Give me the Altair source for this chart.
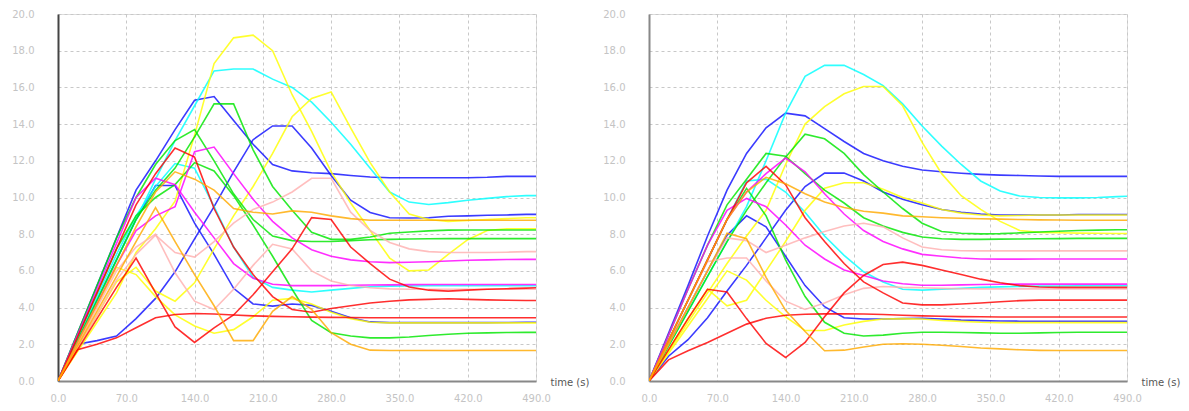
import altair as alt
import pandas as pd

time_s = [0, 20, 40, 60, 80, 100, 120, 140, 160, 180, 200, 220, 240, 260, 280,
          300, 320, 340, 360, 380, 400, 420, 440, 460, 480, 490]

series_names = ["blue_a", "blue_b", "blue_c", "cyan_a", "cyan_b", "yellow_a", "yellow_b",
                "yellow_c", "green_a", "green_b", "green_c", "magenta_a", "magenta_b",
                "pink_a", "pink_b", "red_a", "red_b", "red_c", "orange_a", "orange_c"]
series_colors = ["#1010ff", "#1010ff", "#1010ff", "#00ffff", "#00ffff", "#ffff00", "#ffff00",
                 "#ffff00", "#00e600", "#00e600", "#00e600", "#ff00ff", "#ff00ff",
                 "#ffb0b0", "#ffb0b0", "#ff0000", "#ff0000", "#ff0000", "#ffaa00", "#ffaa00"]

x_ticks = [0, 70, 140, 210, 280, 350, 420, 490]
y_ticks = [0, 2, 4, 6, 8, 10, 12, 14, 16, 18, 20]

# ---- left panel ----
L_blue_a = [0, 2.6, 5.2, 7.8, 10.4, 12.0, 13.7, 15.3, 15.5, 14.2, 12.9, 11.8, 11.45, 11.35, 11.3, 11.2, 11.12, 11.08, 11.08, 11.08, 11.08, 11.08, 11.1, 11.15, 11.15, 11.15]
L_blue_b = [0, 2.0, 2.2, 2.45, 3.4, 4.5, 5.95, 7.75, 9.5, 11.4, 13.15, 13.9, 13.9, 12.7, 11.2, 9.85, 9.18, 8.9, 8.88, 8.9, 8.98, 9.0, 9.03, 9.05, 9.08, 9.08]
L_blue_c = [0, 2.2, 4.4, 6.6, 8.8, 10.65, 10.65, 8.6, 6.9, 5.05, 4.2, 4.08, 4.2, 4.12, 3.8, 3.45, 3.22, 3.18, 3.18, 3.18, 3.18, 3.18, 3.18, 3.19, 3.2, 3.2]
L_cyan_a = [0, 2.2, 4.4, 6.6, 8.8, 11.0, 13.1, 15.0, 16.9, 17.0, 17.0, 16.45, 16.0, 15.2, 14.1, 12.9, 11.6, 10.3, 9.75, 9.62, 9.72, 9.85, 9.95, 10.05, 10.1, 10.1]
L_cyan_b = [0, 2.3, 4.6, 6.9, 9.0, 10.6, 11.85, 11.6, 9.5, 7.3, 5.65, 5.1, 4.95, 4.85, 4.95, 5.05, 5.14, 5.17, 5.18, 5.19, 5.19, 5.19, 5.19, 5.19, 5.19, 5.19]
L_yellow_a = [0, 1.6, 3.2, 4.8, 7.0, 8.3, 9.8, 13.4, 17.3, 18.7, 18.85, 18.0, 15.6, 13.6, 11.4, 9.7, 8.2, 6.7, 6.0, 6.05, 6.9, 7.7, 8.2, 8.3, 8.3, 8.3]
L_yellow_b = [0, 2.0, 4.1, 6.2, 5.8, 4.6, 3.6, 3.0, 2.6, 2.8, 3.5, 4.4, 4.5, 4.2, 3.75, 3.4, 3.2, 3.17, 3.17, 3.17, 3.17, 3.17, 3.17, 3.17, 3.17, 3.17]
L_yellow_c = [0, 1.8, 3.6, 5.4, 6.2, 4.9, 4.35, 5.35, 7.2, 9.0, 10.6, 12.4, 14.4, 15.4, 15.75, 13.8, 11.9, 10.3, 9.1, 8.8, 8.7, 8.75, 8.8, 8.85, 8.9, 8.9]
L_green_a = [0, 2.6, 5.2, 7.8, 10.0, 11.8, 13.1, 13.7, 12.0, 10.2, 8.8, 7.9, 7.65, 7.6, 7.6, 7.65, 7.7, 7.72, 7.74, 7.75, 7.76, 7.76, 7.76, 7.76, 7.76, 7.76]
L_green_b = [0, 2.2, 4.4, 6.6, 8.8, 10.4, 11.6, 13.3, 15.1, 15.1, 12.6, 10.6, 9.3, 8.1, 7.72, 7.72, 7.85, 8.05, 8.12, 8.18, 8.22, 8.23, 8.23, 8.23, 8.23, 8.23]
L_green_c = [0, 2.4, 4.8, 7.2, 9.0, 10.0, 10.7, 11.9, 11.45, 10.1, 8.5, 6.8, 5.0, 3.3, 2.63, 2.45, 2.35, 2.35, 2.4, 2.48, 2.55, 2.6, 2.62, 2.64, 2.65, 2.65]
L_magenta_a = [0, 2.5, 5.0, 7.5, 10.0, 11.05, 10.7, 9.2, 7.8, 6.4, 5.6, 5.27, 5.2, 5.2, 5.2, 5.22, 5.23, 5.24, 5.25, 5.26, 5.26, 5.26, 5.26, 5.26, 5.26, 5.26]
L_magenta_b = [0, 2.1, 4.2, 6.3, 8.2, 9.0, 9.5, 12.5, 12.75, 11.3, 9.9, 8.7, 7.8, 7.15, 6.8, 6.6, 6.5, 6.45, 6.47, 6.5, 6.54, 6.58, 6.6, 6.62, 6.63, 6.63]
L_pink_a = [0, 1.8, 3.6, 5.5, 6.9, 7.95, 7.0, 6.75, 7.6, 8.6, 9.35, 9.75, 10.3, 11.05, 11.05, 9.2, 8.2, 7.55, 7.2, 7.05, 7.0, 7.0, 7.0, 7.02, 7.05, 7.05]
L_pink_b = [0, 2.0, 4.0, 6.0, 7.3, 8.0, 5.9, 4.35, 3.9, 5.0, 6.3, 7.45, 7.2, 6.0, 5.45, 5.2, 5.08, 5.02, 5.0, 5.0, 5.0, 5.0, 5.0, 5.0, 5.0, 5.0]
L_red_a = [0, 1.7, 2.0, 2.35, 2.9, 3.45, 3.62, 3.68, 3.65, 3.6, 3.55, 3.52, 3.5, 3.48, 3.47, 3.46, 3.45, 3.45, 3.45, 3.45, 3.45, 3.45, 3.45, 3.45, 3.45, 3.45]
L_red_b = [0, 1.7, 3.4, 5.1, 6.7, 4.8, 2.95, 2.1, 2.9, 3.6, 4.7, 5.95, 7.2, 8.9, 8.8, 7.3, 6.4, 5.55, 5.12, 4.95, 4.9, 4.95, 5.0, 5.03, 5.06, 5.08]
L_red_c = [0, 2.4, 4.8, 7.2, 9.6, 11.3, 12.7, 12.2, 9.4, 7.3, 5.8, 4.6, 3.9, 3.75, 3.95, 4.1, 4.25, 4.35, 4.42, 4.45, 4.48, 4.45, 4.42, 4.4, 4.39, 4.39]
L_orange_a = [0, 2.1, 4.2, 6.3, 8.4, 10.3, 11.4, 11.0, 10.4, 9.4, 9.2, 9.1, 9.27, 9.2, 9.0, 8.85, 8.76, 8.76, 8.76, 8.76, 8.76, 8.76, 8.76, 8.76, 8.76, 8.76]
L_orange_c = [0, 1.9, 3.8, 5.7, 7.6, 9.45, 7.6, 5.8, 4.1, 2.2, 2.2, 3.8, 4.6, 3.9, 2.63, 2.0, 1.68, 1.66, 1.66, 1.66, 1.66, 1.66, 1.66, 1.66, 1.66, 1.66]

# ---- right panel ----
R_blue_a = [0, 2.6, 5.2, 7.9, 10.4, 12.4, 13.8, 14.6, 14.45, 13.75, 13.05, 12.4, 12.0, 11.7, 11.5, 11.4, 11.32, 11.26, 11.22, 11.2, 11.17, 11.15, 11.15, 11.15, 11.15, 11.15]
R_blue_b = [0, 1.35, 2.25, 3.45, 4.9, 6.3, 7.8, 9.3, 10.6, 11.33, 11.33, 10.9, 10.3, 9.9, 9.6, 9.35, 9.2, 9.1, 9.05, 9.05, 9.05, 9.05, 9.07, 9.07, 9.07, 9.07]
R_blue_c = [0, 2.0, 4.0, 6.0, 7.95, 9.0, 8.4, 6.8, 5.2, 4.05, 3.45, 3.38, 3.38, 3.4, 3.42, 3.38, 3.32, 3.29, 3.27, 3.26, 3.26, 3.26, 3.26, 3.26, 3.26, 3.26]
R_cyan_a = [0, 1.9, 3.8, 5.7, 7.6, 9.5, 12.0, 14.6, 16.6, 17.2, 17.2, 16.7, 16.1, 15.1, 13.9, 12.8, 11.8, 10.9, 10.35, 10.08, 10.0, 9.98, 9.98, 10.0, 10.05, 10.07]
R_cyan_b = [0, 2.2, 4.4, 6.6, 8.8, 10.9, 11.0, 10.3, 9.2, 7.9, 6.85, 5.95, 5.4, 5.0, 4.95, 5.0, 5.05, 5.1, 5.13, 5.15, 5.17, 5.18, 5.19, 5.19, 5.19, 5.19]
R_yellow_a = [0, 1.6, 3.2, 4.8, 6.4, 7.9, 9.3, 11.8, 14.0, 14.95, 15.65, 16.05, 16.05, 15.0, 13.0, 11.3, 10.1, 9.35, 8.7, 8.2, 8.1, 8.08, 8.06, 8.05, 8.04, 8.04]
R_yellow_b = [0, 1.5, 3.0, 4.5, 6.0, 5.5, 4.4, 3.5, 2.75, 2.75, 3.05, 3.25, 3.38, 3.4, 3.38, 3.3, 3.25, 3.2, 3.18, 3.18, 3.18, 3.18, 3.18, 3.18, 3.18, 3.18]
R_yellow_c = [0, 1.7, 3.4, 5.0, 4.1, 4.4, 6.0, 7.6, 9.3, 10.5, 10.8, 10.8, 10.45, 10.0, 9.7, 9.35, 9.15, 9.05, 9.0, 9.02, 9.05, 9.05, 9.05, 9.05, 9.05, 9.05]
R_green_a = [0, 2.5, 5.0, 7.4, 9.6, 11.0, 12.4, 12.25, 11.3, 10.4, 9.7, 8.9, 8.45, 8.1, 7.85, 7.75, 7.72, 7.72, 7.73, 7.74, 7.75, 7.76, 7.77, 7.77, 7.77, 7.77]
R_green_b = [0, 1.9, 3.8, 5.7, 7.6, 9.3, 10.8, 12.2, 13.45, 13.2, 12.4, 11.25, 10.3, 9.4, 8.6, 8.15, 8.05, 8.02, 8.03, 8.07, 8.12, 8.16, 8.2, 8.22, 8.24, 8.24]
R_green_c = [0, 2.2, 4.4, 6.6, 8.8, 10.5, 9.0, 6.6, 4.6, 3.2, 2.6, 2.45, 2.5, 2.6, 2.66, 2.66, 2.64, 2.62, 2.6, 2.6, 2.62, 2.64, 2.66, 2.66, 2.66, 2.66]
R_magenta_a = [0, 2.5, 5.0, 7.4, 9.3, 9.95, 9.5, 8.5, 7.4, 6.65, 6.05, 5.75, 5.45, 5.3, 5.22, 5.22, 5.24, 5.26, 5.27, 5.28, 5.28, 5.28, 5.28, 5.28, 5.28, 5.28]
R_magenta_b = [0, 2.2, 4.4, 6.6, 8.8, 10.3, 11.3, 12.15, 11.4, 10.2, 9.1, 8.2, 7.6, 7.2, 6.9, 6.8, 6.7, 6.65, 6.64, 6.64, 6.65, 6.65, 6.65, 6.65, 6.65, 6.65]
R_pink_a = [0, 2.0, 4.0, 6.0, 7.8, 7.65, 7.0, 7.4, 7.8, 8.15, 8.45, 8.6, 8.4, 7.8, 7.3, 7.15, 7.1, 7.09, 7.09, 7.09, 7.09, 7.09, 7.09, 7.09, 7.09, 7.09]
R_pink_b = [0, 2.2, 4.4, 6.5, 6.7, 6.7, 5.45, 4.35, 3.9, 4.25, 4.7, 5.05, 5.15, 5.1, 5.08, 5.05, 5.03, 5.02, 5.02, 5.02, 5.02, 5.02, 5.02, 5.02, 5.02, 5.02]
R_red_a = [0, 1.15, 1.65, 2.1, 2.6, 3.1, 3.42, 3.58, 3.64, 3.66, 3.66, 3.65, 3.62, 3.58, 3.55, 3.53, 3.51, 3.5, 3.49, 3.49, 3.49, 3.49, 3.49, 3.49, 3.49, 3.49]
R_red_b = [0, 1.7, 3.4, 5.0, 4.85, 3.4, 2.05, 1.28, 2.1, 3.5, 4.8, 5.75, 6.35, 6.48, 6.3, 6.05, 5.8, 5.55, 5.35, 5.2, 5.12, 5.1, 5.1, 5.1, 5.1, 5.1]
R_red_c = [0, 2.2, 4.4, 6.6, 8.8, 10.8, 11.7, 10.7, 8.9, 7.6, 6.4, 5.4, 4.8, 4.25, 4.15, 4.15, 4.2, 4.25, 4.32, 4.38, 4.41, 4.41, 4.41, 4.41, 4.41, 4.41]
R_orange_a = [0, 2.2, 4.4, 6.6, 8.8, 10.3, 11.1, 10.75, 10.2, 9.75, 9.45, 9.25, 9.15, 9.0, 8.95, 8.9, 8.87, 8.84, 8.82, 8.8, 8.78, 8.77, 8.76, 8.76, 8.76, 8.76]
R_orange_c = [0, 2.0, 4.0, 6.0, 8.05, 7.75, 5.65, 3.85, 2.7, 1.65, 1.68, 1.85, 2.0, 2.03, 2.0, 1.95, 1.88, 1.8, 1.75, 1.7, 1.67, 1.66, 1.66, 1.66, 1.66, 1.66]

left_values = [L_blue_a, L_blue_b, L_blue_c, L_cyan_a, L_cyan_b, L_yellow_a, L_yellow_b,
               L_yellow_c, L_green_a, L_green_b, L_green_c, L_magenta_a, L_magenta_b,
               L_pink_a, L_pink_b, L_red_a, L_red_b, L_red_c, L_orange_a, L_orange_c]
right_values = [R_blue_a, R_blue_b, R_blue_c, R_cyan_a, R_cyan_b, R_yellow_a, R_yellow_b,
                R_yellow_c, R_green_a, R_green_b, R_green_c, R_magenta_a, R_magenta_b,
                R_pink_a, R_pink_b, R_red_a, R_red_b, R_red_c, R_orange_a, R_orange_c]


def to_frame(values):
    rows = []
    for name, vals in zip(series_names, values):
        assert len(vals) == len(time_s), name
        for t, v in zip(time_s, vals):
            rows.append({"series": name, "t": t, "v": v})
    return pd.DataFrame(rows)


W, H = 478, 367
FONT = "DejaVu Sans"


def panel(df, y_domain_color):
    return alt.Chart(df).mark_line(strokeWidth=1.6, opacity=0.82, clip=True).encode(
        x=alt.X("t:Q",
                scale=alt.Scale(domain=[0, 490], nice=False, zero=False),
                axis=alt.Axis(values=x_ticks, format=".1f", grid=True, gridDash=[3, 3],
                              gridColor="#c8c8c8", gridWidth=1, ticks=False,
                              domainColor="#888888", domainWidth=2,
                              labelColor="#c4c4c4", labelFont=FONT, labelFontSize=10,
                              labelPadding=12, labelFlush=False, labelOverlap=False,
                              title="time (s)", titleX=W + 14, titleY=1,
                              titleAlign="left", titleBaseline="middle",
                              titleColor="#555555", titleFont=FONT, titleFontSize=10,
                              titleFontWeight="normal")),
        y=alt.Y("v:Q",
                scale=alt.Scale(domain=[0, 20], nice=False),
                axis=alt.Axis(values=y_ticks, format=".1f", grid=True, gridDash=[3, 3],
                              gridColor="#c8c8c8", gridWidth=1, ticks=False,
                              domainColor=y_domain_color, domainWidth=2,
                              labelColor="#c4c4c4", labelFont=FONT, labelFontSize=10,
                              labelPadding=24, labelFlush=False, labelOverlap=False,
                              title=None)),
        color=alt.Color("series:N",
                        scale=alt.Scale(domain=series_names, range=series_colors),
                        legend=None),
    ).properties(width=W, height=H)


left = panel(to_frame(left_values), "#444444")
right = panel(to_frame(right_values), "#888888")

chart = alt.hconcat(left, right, spacing=113, bounds="flush").properties(
    padding={"left": 3, "top": 0, "right": 0, "bottom": 0}
).configure_view(stroke=None).configure(background="white")

chart.save("out.html", embed_options={"renderer": "svg", "actions": False})
